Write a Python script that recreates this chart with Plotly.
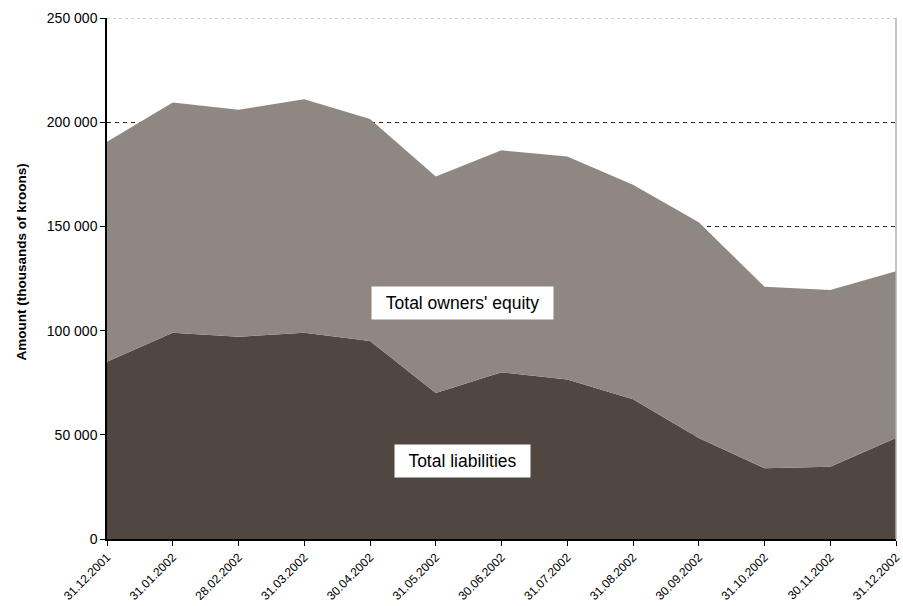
import plotly.graph_objects as go

# Balance sheet snapshots (thousands of kroons)
dates = ["31.12.2001", "31.01.2002", "28.02.2002", "31.03.2002", "30.04.2002",
         "31.05.2002", "30.06.2002", "31.07.2002", "31.08.2002", "30.09.2002",
         "31.10.2002", "30.11.2002", "31.12.2002"]
liabilities = [85000, 99000, 97000, 99000, 95000, 70000, 80000, 76500,
               67000, 48500, 34000, 34700, 48500]
owners_equity = [105600, 110500, 109000, 112000, 106500, 104000, 106500,
                 107000, 103000, 103500, 87000, 84800, 80000]
y_ticks = [0, 50000, 100000, 150000, 200000, 250000]

FONT = "Liberation Sans"

fig = go.Figure()
fig.add_trace(go.Scatter(
    x=dates, y=liabilities, stackgroup="bs", mode="none",
    fillcolor="#504741", name="Total liabilities",
))
fig.add_trace(go.Scatter(
    x=dates, y=owners_equity, stackgroup="bs", mode="none",
    fillcolor="#8f8782", name="Total owners' equity",
))

# Label boxes placed inside each band
fig.add_annotation(x=5.41, y=113200, text="Total owners' equity", showarrow=False,
                   bgcolor="white", font=dict(family=FONT, size=17.5, color="black"),
                   borderpad=6, width=169, height=20)
fig.add_annotation(x=5.41, y=37400, text="Total liabilities", showarrow=False,
                   bgcolor="white", font=dict(family=FONT, size=17.5, color="black"),
                   borderpad=6, width=123, height=20)

# Y-axis title
fig.add_annotation(xref="paper", yref="paper", x=-0.1204, y=0.5317,
                   text="<b>Amount (thousands of kroons)</b>", textangle=-90,
                   showarrow=False, font=dict(family=FONT, size=13.5, color="black"))

# Top frame line (dashed) and right frame line
fig.add_shape(type="line", xref="paper", yref="y", x0=0, x1=1, y0=250000, y1=250000,
              line=dict(color="#9a9a9a", width=1, dash="3px,3px"), layer="above")
fig.add_shape(type="line", xref="paper", yref="paper", x0=1, x1=1, y0=0, y1=1,
              line=dict(color="#b0b0b0", width=1.5), layer="above")

fig.update_layout(
    width=903, height=606,
    margin=dict(l=107, r=7, t=18, b=67),
    plot_bgcolor="white", paper_bgcolor="white",
    showlegend=False,
    separators=". ",
    font=dict(family=FONT, size=14, color="black"),
    xaxis=dict(
        type="category", range=[0, 12], tickangle=-45,
        tickfont=dict(size=12), showgrid=False,
        showline=True, linecolor="black", linewidth=1.5,
        ticks="outside", ticklen=5, tickcolor="black",
        tickmode="array", tickvals=dates, automargin=False,
    ),
    yaxis=dict(
        range=[0, 250000], tickvals=y_ticks, tickformat=",d",
        tickfont=dict(size=14),
        showgrid=True, gridcolor="#222222", griddash="4px,4px", gridwidth=1,
        showline=True, linecolor="black", linewidth=1.5,
        ticks="outside", ticklen=5, tickcolor="black",
        zeroline=False, automargin=False,
    ),
)

fig.write_html("out.html")
